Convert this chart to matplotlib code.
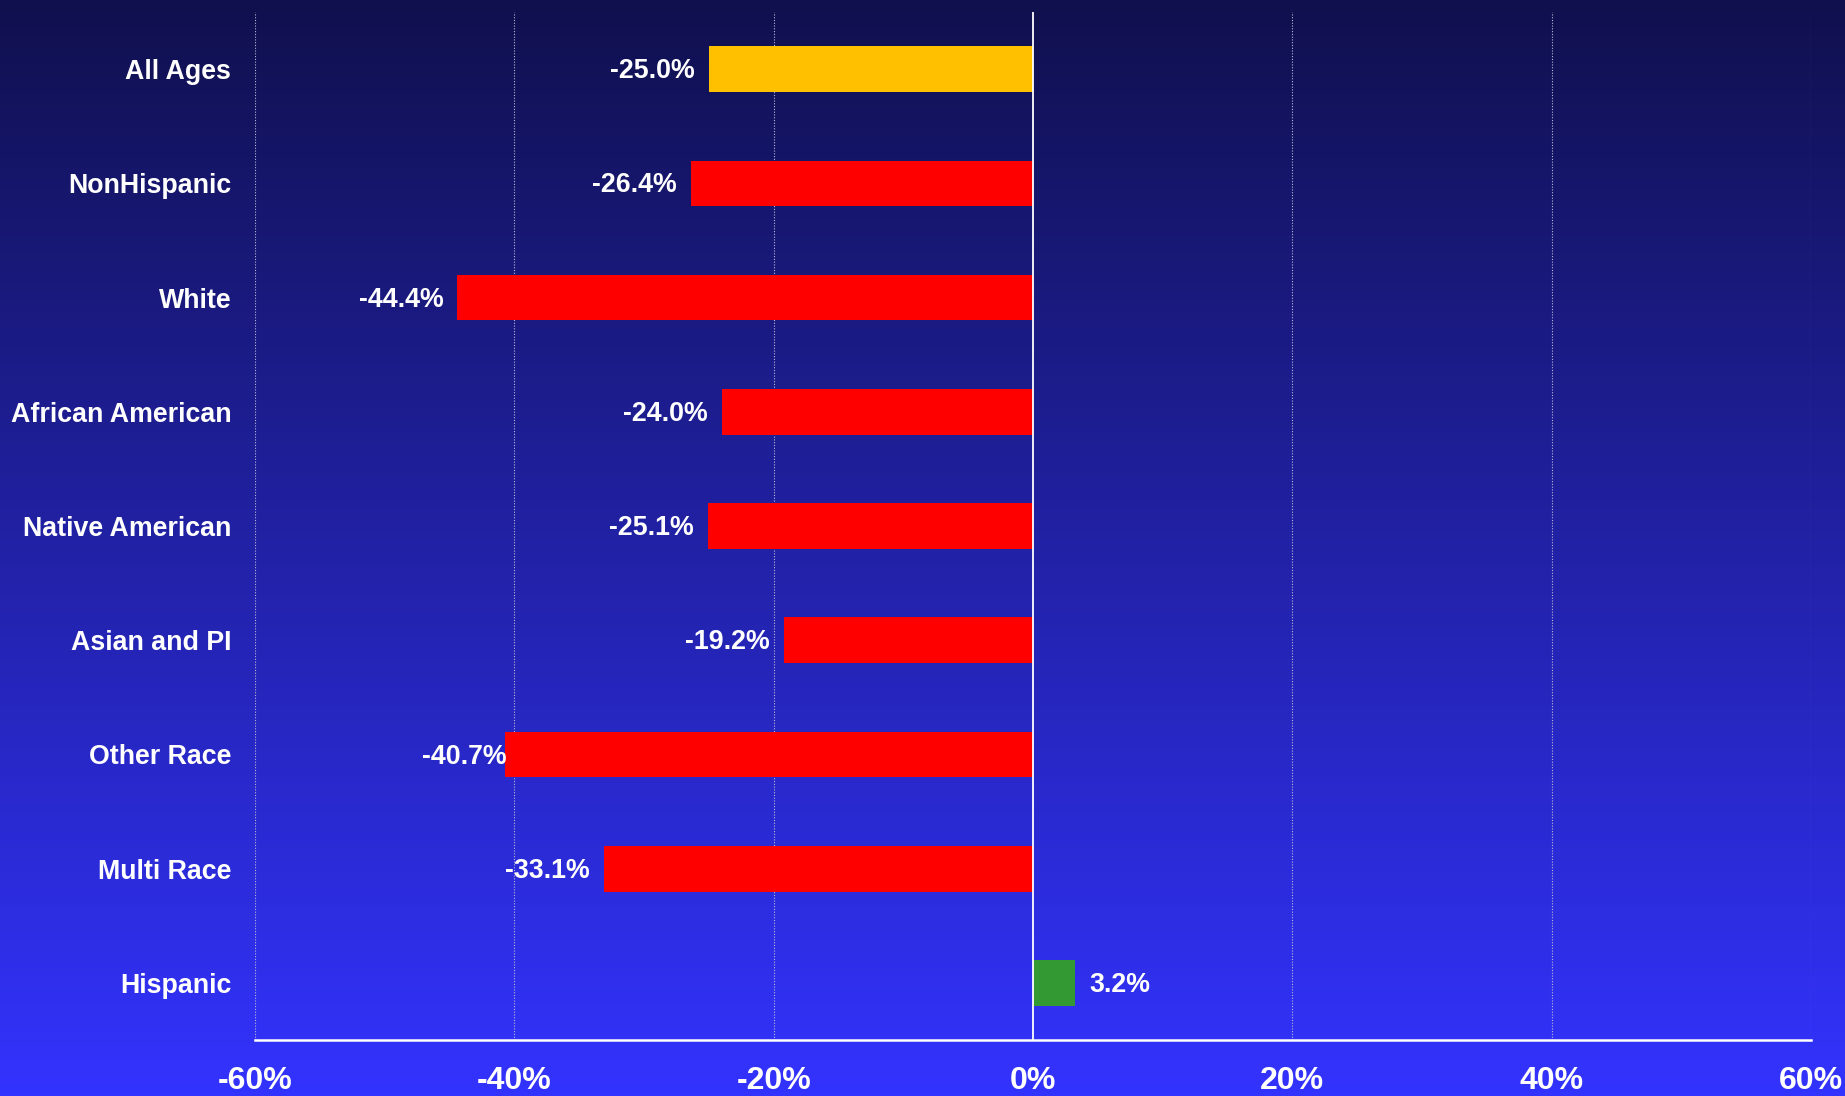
import numpy as np
import matplotlib.pyplot as plt

# Data
categories = ["All Ages", "NonHispanic", "White", "African American",
              "Native American", "Asian and PI", "Other Race", "Multi Race",
              "Hispanic"]
values = [-25.0, -26.4, -44.4, -24.0, -25.1, -19.2, -40.7, -33.1, 3.2]
bar_colors = ["#FFC000", "#FF0000", "#FF0000", "#FF0000", "#FF0000",
              "#FF0000", "#FF0000", "#FF0000", "#339933"]
xticks = [-60, -40, -20, 0, 20, 40, 60]

plt.rcParams['font.family'] = ['Liberation Sans', 'DejaVu Sans']
plt.rcParams['font.weight'] = 'bold'

fig = plt.figure(figsize=(18.45, 10.96), dpi=100)

# Background gradient, dark navy at top to bright blue at bottom
bg = fig.add_axes([0, 0, 1, 1], zorder=0)
top = np.array([16, 16, 78]) / 255
bottom = np.array([51, 51, 255]) / 255
t = np.linspace(0, 1, 256)[:, None]
grad = top + (bottom - top) * t
bg.imshow(grad[:, None, :], aspect='auto', extent=[0, 1, 0, 1])
bg.axis("off")

ax = fig.add_axes([0.1382, 0.0511, 0.8434, 0.9379], zorder=1)
ax.patch.set_alpha(0)

y = np.arange(len(categories))
ax.barh(y, values, height=0.4, color=bar_colors, zorder=3)

ax.set_xlim(-60, 60)
ax.set_ylim(len(categories) - 0.5, -0.5)
ax.set_xticks(xticks)
ax.set_xticklabels([f"{v}%" for v in xticks])
ax.set_yticks(y)
ax.set_yticklabels(categories)
ax.tick_params(axis='x', length=0, pad=19, labelsize=23, colors='white')
ax.tick_params(axis='y', length=0, pad=17, labelsize=19.3, colors='white')

for s in ["top", "left", "right"]:
    ax.spines[s].set_visible(False)
ax.spines["bottom"].set_color("white")
ax.spines["bottom"].set_linewidth(1.8)

# dotted gridlines, solid zero line
for v in xticks:
    if v == 0:
        ax.axvline(0, color="white", linewidth=1.3, zorder=4)
    else:
        ax.axvline(v, color="#b8b8d8", linewidth=0.8, linestyle=(0, (1, 1.5)), zorder=1)

# value labels
for cat, yi, v in zip(categories, y, values):
    if v < 0:
        # the Other Race label sits right against its bar in the original
        dx = 1 if cat == "Other Race" else -10
        ax.annotate(f"{v:.1f}%", (v, yi), xytext=(dx, -1.5), textcoords="offset points",
                    ha="right", va="center", color="white", fontsize=19.3,
                    fontweight="bold", zorder=5)
    else:
        ax.annotate(f"{v:.1f}%", (v, yi), xytext=(11, -1.5), textcoords="offset points",
                    ha="left", va="center", color="white", fontsize=19.3,
                    fontweight="bold", zorder=5)

fig.savefig("out.png", dpi=100)
